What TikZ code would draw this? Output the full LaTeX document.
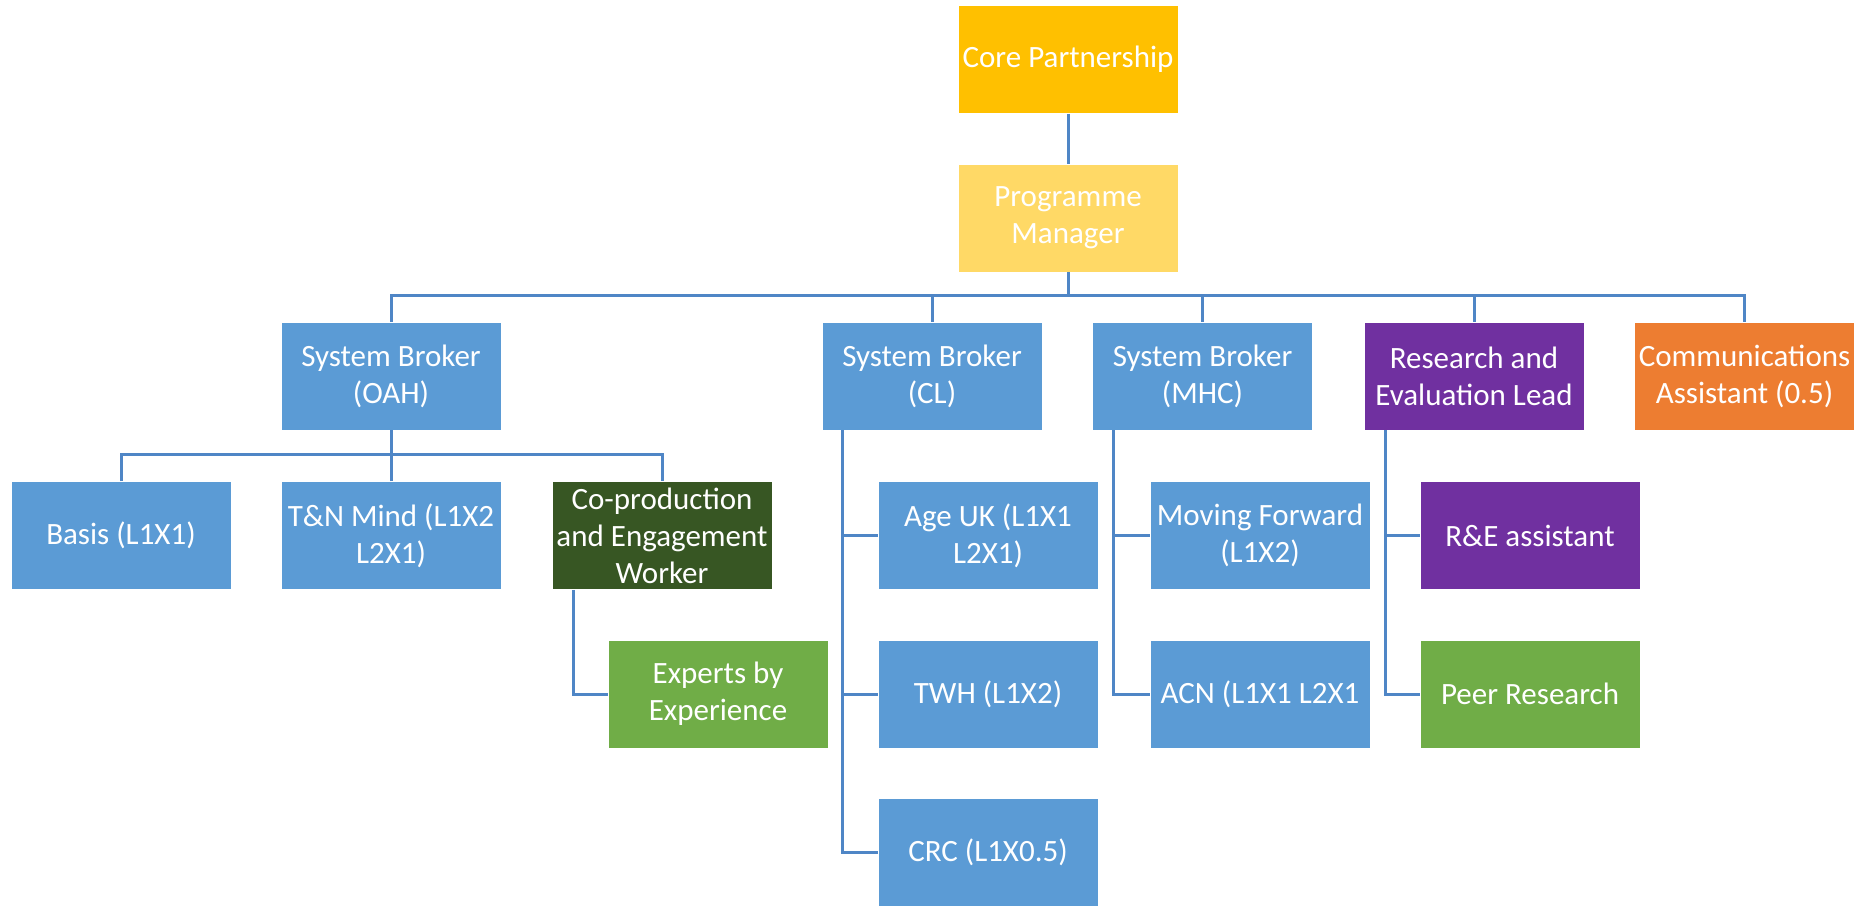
\documentclass[tikz,border=0pt]{standalone}
\usepackage{fontspec}
\setmainfont{Carlito}
\definecolor{coreC}{HTML}{FFC000}
\definecolor{pmC}{HTML}{FFD966}
\definecolor{blueC}{HTML}{5B9BD5}
\definecolor{dgreenC}{HTML}{375623}
\definecolor{greenC}{HTML}{70AD47}
\definecolor{purpleC}{HTML}{7030A0}
\definecolor{orangeC}{HTML}{ED7D31}
\definecolor{lineC}{HTML}{4F86C6}
\begin{document}
\begin{tikzpicture}[x=1pt,y=-1pt,
  box/.style={rectangle,draw=white,line width=0.8pt,minimum width=220pt,minimum height=108pt,
    inner sep=2pt,text=white,align=center,font=\fontsize{31}{37}\selectfont},
  conn/.style={draw=lineC,line width=3pt}]
\useasboundingbox (0,0) rectangle (1868,906);
\fill[white] (0,0) rectangle (1868,906);
% level 1-2
\node[box,fill=coreC] (core) at (1068,59.5) {Core Partnership};
\node[box,fill=pmC] (pm) at (1068,218) {Programme\\Manager};
% level 3
\node[box,fill=blueC] (oah) at (391,376) {System Broker\\(OAH)};
\node[box,fill=blueC] (cl) at (932,376) {System Broker\\(CL)};
\node[box,fill=blueC] (mhc) at (1202.5,376) {System Broker\\(MHC)};
\node[box,fill=purpleC] (rel) at (1474,376) {Research and\\Evaluation Lead};
\node[box,fill=orangeC] (comm) at (1744.5,376) {Communications\\Assistant (0.5)};
% level 4
\node[box,fill=blueC] (basis) at (121,535.5) {Basis (L1X1)};
\node[box,fill=blueC] (tn) at (391,535.5) {T\&N Mind (L1X2\\L2X1)};
\node[box,fill=dgreenC] (coprod) at (662,535.5) {Co-production\\and Engagement\\Worker};
\node[box,fill=blueC] (ageuk) at (988,535.5) {Age UK (L1X1\\L2X1)};
\node[box,fill=blueC] (mf) at (1260,535.5) {Moving Forward\\(L1X2)};
\node[box,fill=purpleC] (rea) at (1530,535.5) {R\&E assistant};
% level 5
\node[box,fill=greenC] (exp) at (718,694) {Experts by\\Experience};
\node[box,fill=blueC] (twh) at (988,694) {TWH (L1X2)};
\node[box,fill=blueC] (acn) at (1260,694) {ACN (L1X1 L2X1};
\node[box,fill=greenC] (peer) at (1530,694) {Peer Research};
% level 6
\node[box,fill=blueC] (crc) at (988,852) {CRC (L1X0.5)};
% connectors
\coordinate (b1) at (1068,295);
\coordinate (b2) at (391,454);
\draw[conn] (core.south) -- (pm.north);
\draw[conn] (pm.south) -- (b1);
\draw[conn] (oah.north) |- (b1) -| (comm.north);
\draw[conn] (cl.north) -- (cl.north |- b1);
\draw[conn] (mhc.north) -- (mhc.north |- b1);
\draw[conn] (rel.north) -- (rel.north |- b1);
\draw[conn] (oah.south) -- (b2);
\draw[conn] (basis.north) |- (b2) -| (coprod.north);
\draw[conn] (tn.north) -- (tn.north |- b2);
% side connectors
\draw[conn] ([xshift=21pt]cl.south west) |- (crc.west);
\draw[conn] ([xshift=21pt]cl.south west |- ageuk.west) -- (ageuk.west);
\draw[conn] ([xshift=21pt]cl.south west |- twh.west) -- (twh.west);
\draw[conn] ([xshift=21pt]mhc.south west) |- (acn.west);
\draw[conn] ([xshift=21pt]mhc.south west |- mf.west) -- (mf.west);
\draw[conn] ([xshift=22pt]rel.south west) |- (peer.west);
\draw[conn] ([xshift=22pt]rel.south west |- rea.west) -- (rea.west);
\draw[conn] ([xshift=22pt]coprod.south west) |- (exp.west);
\end{tikzpicture}
\end{document}
